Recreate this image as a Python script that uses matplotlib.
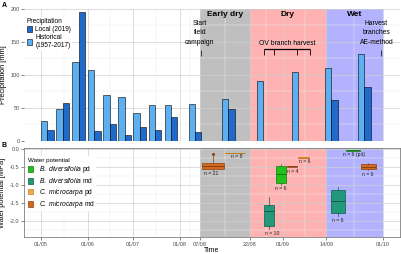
import numpy as np
import matplotlib
matplotlib.use("Agg")
import matplotlib.pyplot as plt
from matplotlib.patches import Patch
from matplotlib.ticker import FixedLocator

plt.rcParams['font.family'] = ['Liberation Sans', 'DejaVu Sans']
plt.rcParams['mathtext.fontset'] = 'custom'
plt.rcParams['mathtext.it'] = 'Liberation Sans:italic'
plt.rcParams['mathtext.rm'] = 'Liberation Sans'

# ---------------- data (day of year 2019) ----------------
decade_mid = [125.5, 135.5, 146, 156.5, 166.5, 176.5, 186.5, 196.5, 207,
              217.5, 227.5, 238, 248.5, 258.5, 268.5]
precip_hist = [30, 48, 119, 107, 70, 67, 42, 54, 54, 56, 64, 90, 104, 110, 132]
precip_local = [17, 58, 196, 15, 25, 8, 21, 17, 36, 13, 48, 0, 0, 62, 81]

tick_days = [121, 152, 182, 213, 219, 234, 244, 257, 274]
tick_labels = ["01/05", "01/06", "01/07", "01/08", "07/08", "22/08", "01/09", "14/09", "01/10"]

periods = ["Early dry", "Dry", "Wet"]
period_start = [219, 234, 257]
period_end = [234, 257, 274]

ov_harvest = [238.3, 241.3, 248.3, 252.2]

# water potential boxplots
wp_group = ["Cm md", "Cm pd", "Bd md", "Bd pd", "Cm md", "Cm pd", "Bd md", "Bd pd", "Cm md"]
wp_day = [223, 229.6, 239.8, 243.4, 246.7, 250.2, 260.5, 265, 269.7]
wp_q1 = [-0.556, -0.112, -2.13, -0.928, -0.483, -0.25, -1.76, -0.045, -0.556]
wp_med = [-0.456, -0.10, -1.714, -0.694, -0.47, -0.23, -1.43, -0.03, -0.483]
wp_q3 = [-0.39, -0.094, -1.547, -0.464, -0.456, -0.206, -1.13, -0.02, -0.40]
wp_lo = [-0.57, -0.112, -2.222, -0.992, -0.483, -0.25, -1.85, -0.045, -0.57]
wp_hi = [-0.18, -0.094, -1.333, -0.408, -0.456, -0.206, -1.04, -0.02, -0.38]
wp_fliers = [[-0.13], [], [], [], [], [], [], [], []]
wp_n = ["n = 21", "n = 8", "n = 10", "n = 6", "n = 4", "n = 6", "n = 6", "n = 6 (pd)", "n = 6"]

# ---------------- styles ----------------
c_local = "#1F6ACB"
c_hist = "#5CB0F2"
grp_fill = {"Bd pd": "#22C21E", "Bd md": "#22997A", "Cm pd": "#F3A84C", "Cm md": "#D2691E"}
grp_edge = {"Bd pd": "#177A14", "Bd md": "#145C46", "Cm pd": "#C47A1C", "Cm md": "#8A4212"}
period_col = [("#808080", 0.5), ("#FF0000", 0.3), ("#0000FF", 0.3)]
box_width = [6.6, 6.0, 3.1, 3.2, 3.2, 3.2, 4.3, 4.2, 4.4]
label_pos = [(222.5, -0.67), (230.1, -0.21), (240.6, -2.33), (243.3, -1.08), (246.8, -0.60),
             (250.6, -0.35), (260.6, -1.98), (265.3, -0.14), (269.6, -0.69)]

K = 2.195
def fwd(x):
    x = np.asarray(x, float)
    return np.where(x <= 213, x, 213 + (x - 213) * K)
def inv(y):
    y = np.asarray(y, float)
    return np.where(y <= 213, y, 213 + (y - 213) / K)

W, H = 401, 254
fig = plt.figure(figsize=(W / 100, H / 100), dpi=100)
axA = fig.add_axes([24 / W, 1 - 140.7 / H, 376 / W, 131.7 / H])
axB = fig.add_axes([24 / W, 1 - 237.3 / H, 376 / W, 89 / H])

tick_col = "#4D4D4D"
for ax in (axA, axB):
    ax.set_xscale('function', functions=(fwd, inv))
    ax.set_xlim(110, 279.2)
    ax.xaxis.set_major_locator(FixedLocator(tick_days))
    mids = [(a + b) / 2 for a, b in zip(tick_days[:-1], tick_days[1:])]
    ax.xaxis.set_minor_locator(FixedLocator(mids))
    ax.set_axisbelow(True)
    ax.grid(which='major', color='#CFCFCF', lw=0.5)
    ax.grid(which='minor', color='#EBEBEB', lw=0.35)
    ax.tick_params(which='major', length=2, width=0.5, color='#555555', labelsize=4,
                   labelcolor=tick_col, pad=1.2)
    ax.tick_params(which='minor', length=0)
    for s, e, (c, a) in zip(period_start, period_end, period_col):
        ax.axvspan(s, e, color=c, alpha=a, lw=0, zorder=0.5)

# ---------------- Panel A ----------------
axA.set_ylim(0, 200)
axA.set_yticks([0, 50, 100, 150, 200])
axA.yaxis.set_minor_locator(FixedLocator([25, 75, 125, 175]))
axA.set_xticklabels([])
axA.tick_params(axis='x', which='major', length=0)
for s in axA.spines.values():
    s.set_visible(False)

mid = np.array(decade_mid)
wbar = np.where(mid < 213, 4.2, 1.93)
axA.bar(mid - wbar / 2, precip_hist, width=wbar, color=c_hist, edgecolor='black',
        lw=0.4, zorder=2, label="Historical\n(1957-2017)")
axA.bar(mid + wbar / 2, precip_local, width=wbar, color=c_local, edgecolor='black',
        lw=0.4, zorder=2, label="Local (2019)")
axA.set_ylabel("Precipitation [mm]", fontsize=5.3)
axA.yaxis.set_label_coords(-0.046, 0.5)

for name, s, e in zip(periods, period_start, period_end):
    axA.text((s + e) / 2, 191, name, ha='center', va='center', fontsize=6,
             fontweight='bold', zorder=5)

axA.text(219, 163.6, "Start\nfield\ncampaign", ha='center', va='center', fontsize=4.9,
         linespacing=1.45, zorder=5)
axA.text(272.1, 163.6, "Harvest\nbranches\nAE-method", ha='center', va='center',
         fontsize=4.9, linespacing=1.45, zorder=5)
axA.vlines([219.2, 273.5], 129, 137.5, color='black', lw=0.5, zorder=5)

axA.hlines(138.8, ov_harvest[0], ov_harvest[-1], color='black', lw=0.9, zorder=5)
axA.vlines(ov_harvest, 130, 138.8, color='black', lw=0.6, zorder=5)
axA.text((ov_harvest[0] + ov_harvest[-1]) / 2, 147.5, "OV branch harvest", ha='center',
         va='center', fontsize=4.9, zorder=5)

hA, lA = axA.get_legend_handles_labels()
legA = axA.legend(hA[::-1], lA[::-1], title="Precipitation", loc='upper left',
                  bbox_to_anchor=(0.004, 0.94), fontsize=4.7, title_fontsize=4.7,
                  frameon=True, facecolor='white', edgecolor='none', framealpha=1,
                  handlelength=0.8, handleheight=1.0, handletextpad=0.5,
                  labelspacing=0.15, borderpad=0.2, borderaxespad=0)
legA._legend_box.align = "left"
legA.set_zorder(6)

# ---------------- Panel B ----------------
axB.set_ylim(-2.44, 0.03)
axB.set_yticks([0, -0.5, -1.0, -1.5, -2.0])
axB.set_yticklabels(["0.0", "-0.5", "-1.0", "-1.5", "-2.0"])
axB.yaxis.set_minor_locator(FixedLocator([-0.25, -0.75, -1.25, -1.75, -2.25]))
for s in axB.spines.values():
    s.set_color('#7F7F7F')
    s.set_linewidth(0.6)

stats = []
for i in range(len(wp_day)):
    stats.append(dict(med=wp_med[i], q1=wp_q1[i], q3=wp_q3[i], whislo=wp_lo[i],
                      whishi=wp_hi[i], fliers=wp_fliers[i]))
for i, st in enumerate(stats):
    g = wp_group[i]
    fc, ec = grp_fill[g], grp_edge[g]
    axB.bxp([st], positions=[wp_day[i]], widths=[box_width[i]], patch_artist=True,
            showcaps=False, manage_ticks=False, zorder=3,
            boxprops=dict(facecolor=fc, edgecolor=ec, lw=0.5),
            medianprops=dict(color=ec, lw=0.7),
            whiskerprops=dict(color=ec, lw=0.5),
            flierprops=dict(marker='o', markersize=1.2, markerfacecolor=ec,
                            markeredgecolor=ec))
for txt, (x, y) in zip(wp_n, label_pos):
    axB.text(x, y, txt, ha='center', va='center', fontsize=3.7, color='#222222', zorder=5)

axB.set_xticklabels(tick_labels)
axB.set_xlabel("Time", fontsize=5.0, labelpad=0.3)
axB.set_ylabel("Water potential [MPa]", fontsize=5.3)
axB.yaxis.set_label_coords(-0.049, 0.5)

leg_labels = [r"$\mathit{B.\ diversifolia}$ pd", r"$\mathit{B.\ diversifolia}$ md",
              r"$\mathit{C.\ microcarpa}$ pd", r"$\mathit{C.\ microcarpa}$ md"]
leg_keys = ["Bd pd", "Bd md", "Cm pd", "Cm md"]
handles = [Patch(facecolor=grp_fill[k], edgecolor=grp_edge[k], lw=0.5) for k in leg_keys]
legB = axB.legend(handles, leg_labels, title="Water potential", loc='upper left',
                  bbox_to_anchor=(0.006, 0.91), fontsize=4.9, title_fontsize=4.5,
                  frameon=True, facecolor='white', edgecolor='none', framealpha=1,
                  handlelength=0.8, handleheight=0.9, handletextpad=0.8,
                  labelspacing=0.2, borderpad=0.2, borderaxespad=0)
legB._legend_box.align = "left"
legB.set_zorder(6)

fig.text(4 / W, 1 - 5.5 / H, "A", fontsize=5, fontweight='bold', ha='center', va='center')
fig.text(4 / W, 1 - 145.5 / H, "B", fontsize=5, fontweight='bold', ha='center', va='center')

fig.savefig("out.png", dpi=100)
